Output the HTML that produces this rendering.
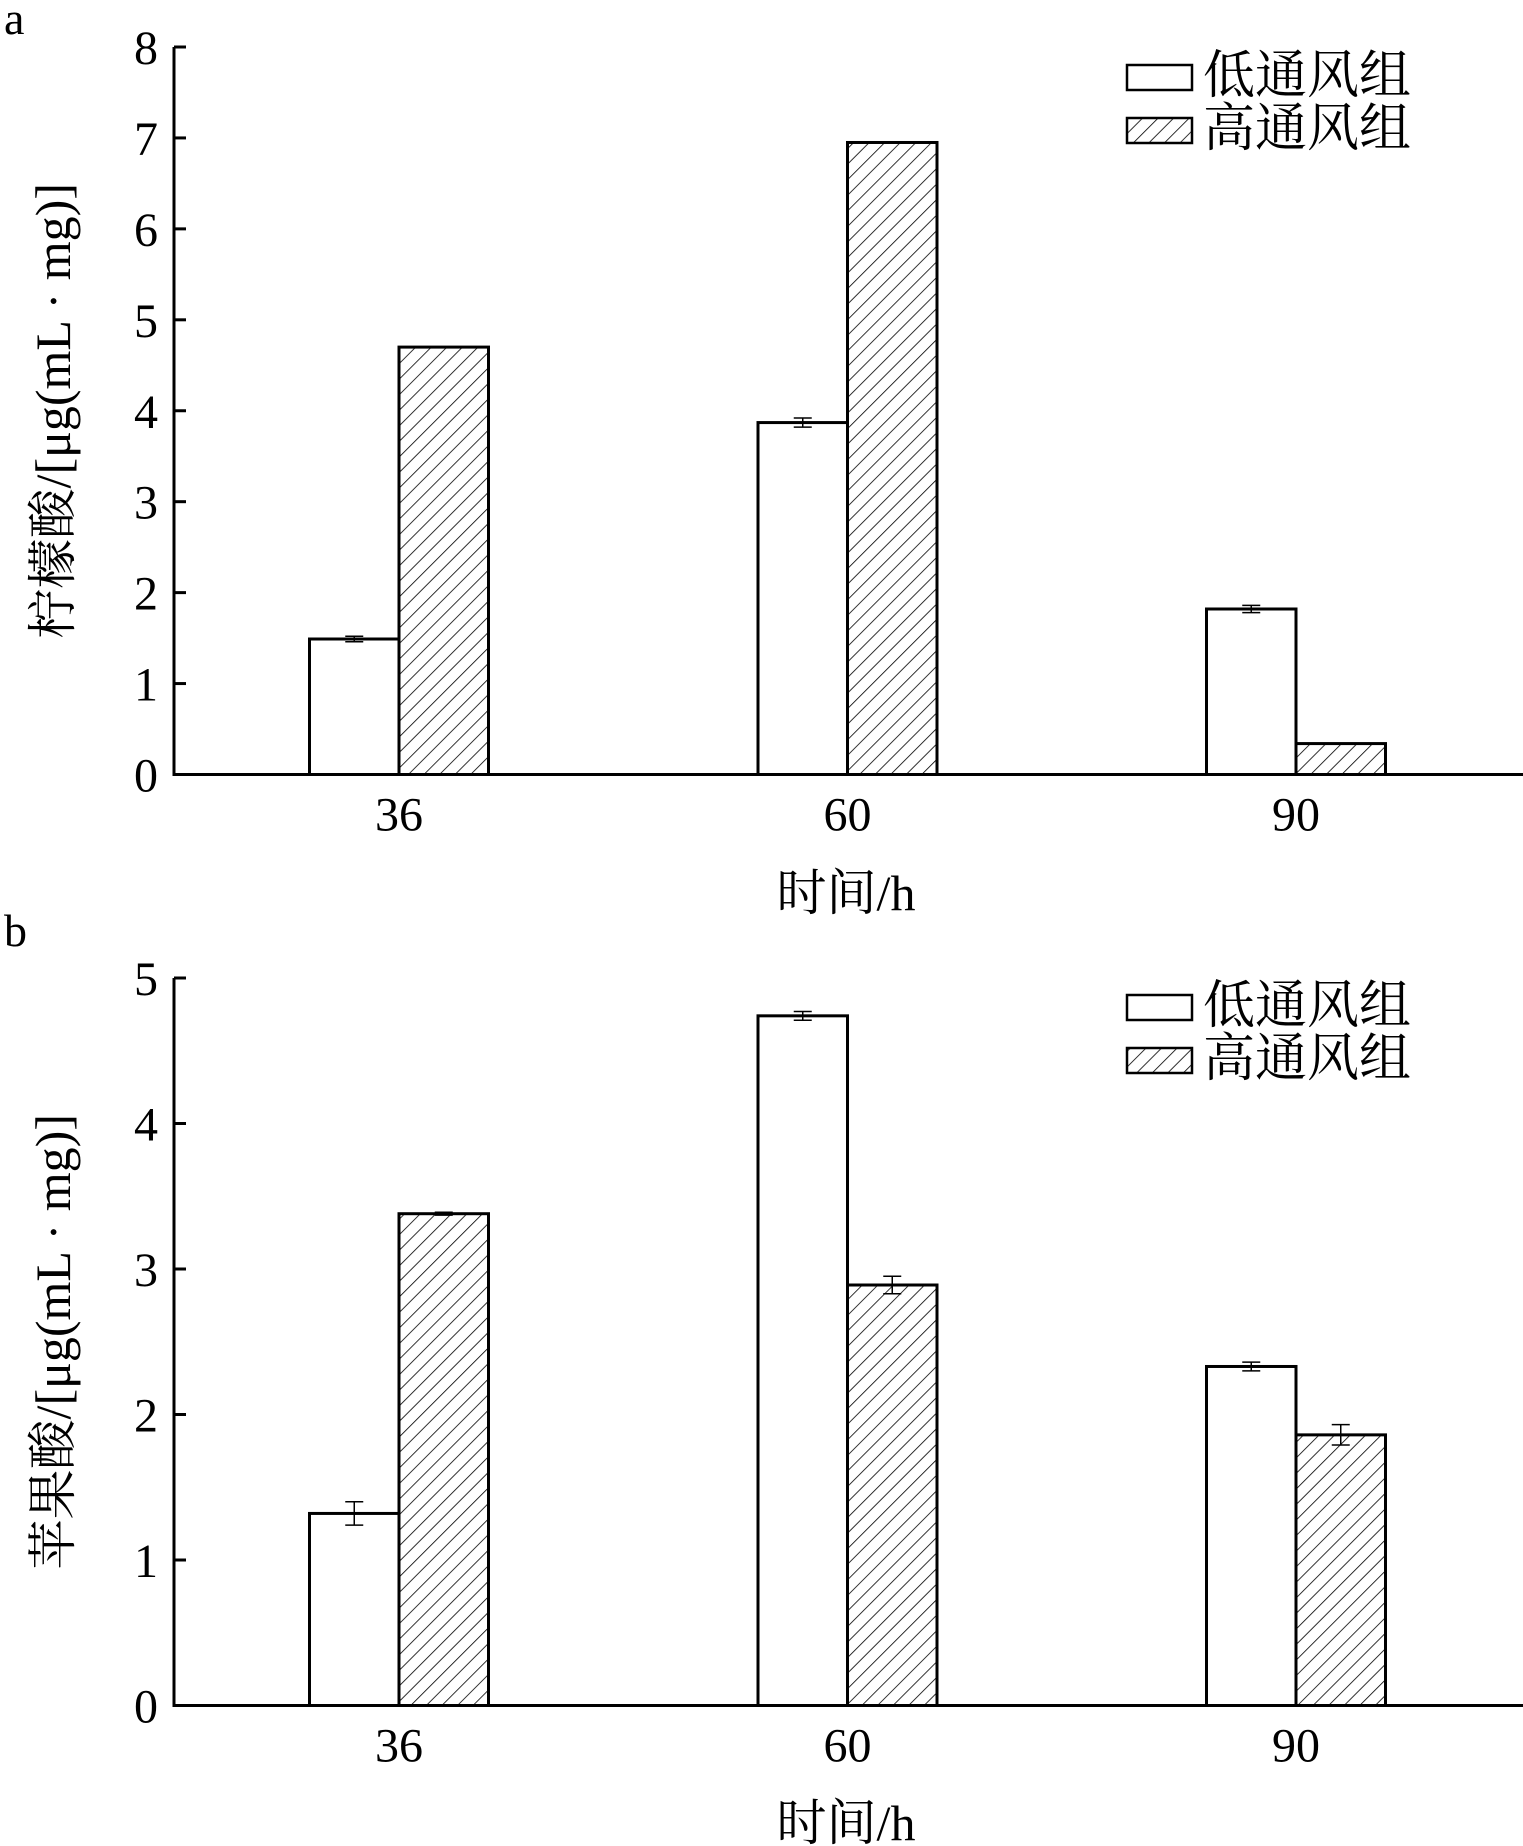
<!DOCTYPE html>
<html><head><meta charset="utf-8">
<style>
html,body{margin:0;padding:0;background:#fff;}
svg{display:block;}
text{font-family:"Liberation Serif","Noto Serif CJK SC",serif;fill:#000;}
</style></head>
<body>
<svg id="fig" width="1523" height="1846" viewBox="0 0 1523 1846" xmlns="http://www.w3.org/2000/svg">
<defs>
<pattern id="hatch" patternUnits="userSpaceOnUse" width="11" height="11" patternTransform="rotate(-45)">
<rect width="11" height="11" fill="#fff"/>
<line x1="0" y1="0" x2="11" y2="0" stroke="#000" stroke-width="1.6"/>
</pattern>
</defs>
</svg>
<script>
const categories = ["36","60","90"];
const seriesNames = ["低通风组","高通风组"];
const aLow = [1.49, 3.87, 1.82];
const aLowErr = [0.03, 0.05, 0.04];
const aHigh = [4.70, 6.95, 0.34];
const aHighErr = [0.0, 0.0, 0.0];
const aTicks = ["0","1","2","3","4","5","6","7","8"];
const bLow = [1.32, 4.74, 2.33];
const bLowErr = [0.08, 0.03, 0.03];
const bHigh = [3.38, 2.89, 1.86];
const bHighErr = [0.01, 0.06, 0.07];
const bTicks = ["0","1","2","3","4","5"];

const NS = "http://www.w3.org/2000/svg";
const svg = document.getElementById('fig');
function mk(tag, attrs, parent, txt){
  const e = document.createElementNS(NS, tag);
  for (const k in attrs) e.setAttribute(k, attrs[k]);
  if (txt !== undefined) e.textContent = txt;
  (parent||svg).appendChild(e);
  return e;
}

function panel(cfg){
  const g = mk('g', {});
  
  
  const x0 = 174, x1 = 1523, yTop = cfg.yTop, yBot = cfg.yBot;
  const vmax = cfg.ticks.length - 1;
  const y = v => yBot - (v / vmax) * (yBot - yTop);
  const centers = [399, 846, 1296];
  const cx = i => centers[0] + i * (centers[2] - centers[0]) / (categories.length - 1);
  const bw = 89.5;

  const lbl = mk('text', {x: 4, y: cfg.labelY, 'font-size': 46}, g, cfg.label);
  
  

  // bars
  categories.forEach((c, i) => {
    const vals = [cfg.low[i], cfg.high[i]];
    const errs = [cfg.lowErr[i], cfg.highErr[i]];
    vals.forEach((v, s) => {
      const bx = cx(i) - bw + s * bw;
      const r = mk('rect', {x: bx, y: y(v), width: bw, height: yBot - y(v),
        fill: s ? 'url(#hatch)' : '#fff', stroke: '#000', 'stroke-width': 3}, g);
      
      
      if (errs[s] > 0) {
        const ex = bx + bw / 2;
        const eg = mk('g', {stroke: '#000', 'stroke-width': 1.5}, g);
        
        
        mk('line', {x1: ex, x2: ex, y1: y(v + errs[s]), y2: y(v - errs[s])}, eg);
        mk('line', {x1: ex - 9, x2: ex + 9, y1: y(v + errs[s]), y2: y(v + errs[s])}, eg);
        mk('line', {x1: ex - 9, x2: ex + 9, y1: y(v - errs[s]), y2: y(v - errs[s])}, eg);
      }
    });
    const t = mk('text', {x: cx(i), y: yBot + 56, 'font-size': 48, 'text-anchor': 'middle'}, g, c);
    
    
  });

  // axes
  const ax = mk('path', {d: `M${x0},${yTop} L${x0},${yBot} L${x1},${yBot}`, fill: 'none', stroke: '#000', 'stroke-width': 3}, g);
  
  
  cfg.ticks.forEach((tl, k) => {
    const ty = y(k);
    const tk = mk('line', {x1: x0, x2: x0 + 12, y1: ty, y2: ty, stroke: '#000', 'stroke-width': 3}, g);
    
    
    const t = mk('text', {x: x0 - 16, y: ty + 17, 'font-size': 48, 'text-anchor': 'end'}, g, tl);
    
    
  });

  const xt = mk('text', {x: 846, y: cfg.xTitleY, 'font-size': 50, 'text-anchor': 'middle'}, g, '时间/h');
  
  

  const ym = (yTop + yBot) / 2 + cfg.yTitleShift;
  const yt = mk('text', {x: 0, y: 0, 'font-size': 50, 'text-anchor': 'middle',
    transform: `translate(70,${ym}) rotate(-90)`}, g, cfg.yTitle);
  
  

  // legend
  seriesNames.forEach((n, s) => {
    const ly = cfg.legendY + s * 53;
    const lg = mk('g', {}, g);
    
    
    mk('rect', {x: 1127, y: ly, width: 65, height: 25, fill: s ? 'url(#hatch)' : '#fff', stroke: '#000', 'stroke-width': 2.5}, lg);
    mk('text', {x: 1203, y: ly + 28, 'font-size': 52}, lg, n);
  });
}

panel({name: 'chart-a-citric-acid', label: 'a', labelY: 34, yTop: 47, yBot: 774.5,
  ticks: aTicks, low: aLow, lowErr: aLowErr, high: aHigh, highErr: aHighErr,
  xTitleY: 910, yTitle: '柠檬酸/[μg(mL · mg)]', yTitleShift: 0, legendY: 65});
panel({name: 'chart-b-malic-acid', label: 'b', labelY: 946, yTop: 978, yBot: 1705.5,
  ticks: bTicks, low: bLow, lowErr: bLowErr, high: bHigh, highErr: bHighErr,
  xTitleY: 1840, yTitle: '苹果酸/[μg(mL · mg)]', yTitleShift: 0, legendY: 995});
</script>
</body></html>
